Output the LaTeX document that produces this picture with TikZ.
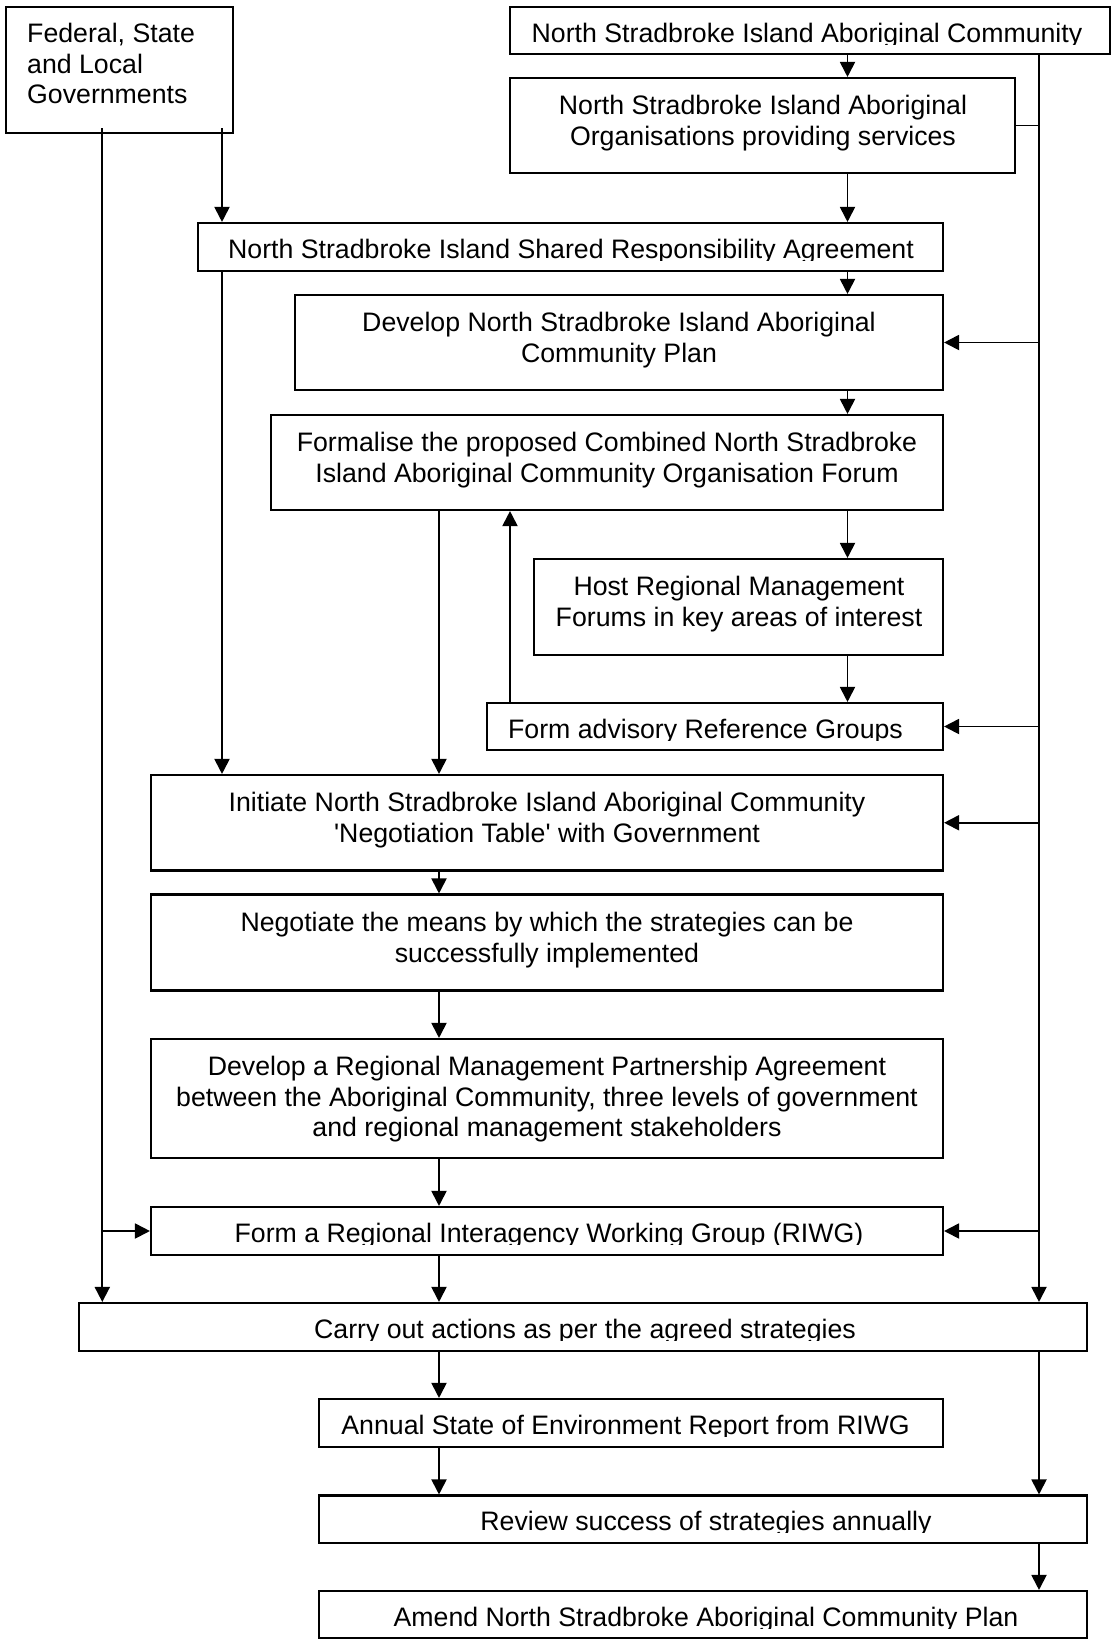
\documentclass[tikz,border=0pt]{standalone}
\usepackage{fontspec}
\setmainfont{Liberation Sans}
\usetikzlibrary{arrows.meta}

% straight apostrophe (bypasses the TeX quote ligatures)
\newcommand\sq{{\XeTeXglyph\XeTeXglyphindex"quotesingle"\relax}}
% fixed height of the first text line
\newcommand\fl{\rule{0pt}{21.4pt}}

% box given by its corners: name, x1, y1, x2, y2
\newcommand\flowbox[5]{%
  \node[box, minimum width=#4pt-#2pt, minimum height=#5pt-#3pt]
    (#1) at ({(#2+#4)/2},{(#3+#5)/2}) {};}

% single-line caption inside a shallow box: name, centre x, box top, text
\newcommand\oneline[4]{%
  \begin{scope}
    \clip (0,#3) rectangle (1115,#3+37);
    \node[lbl] (#1) at (#2,#3+13.6) {\fl #4};
  \end{scope}}

\begin{document}
\begin{tikzpicture}[x=1pt,y=-1pt,
  box/.style={draw, line width=2.1pt, inner sep=0pt},
  lbl/.style={inner sep=0pt, align=center, anchor=north,
    font=\fontsize{26.7pt}{30.6pt}\selectfont},
  flow/.style={line width=1.9pt, -{Triangle[length=15pt,width=15pt]}},
  link/.style={line width=1.9pt}]

\fill[white] (0,0) rectangle (1115,1639);
\useasboundingbox (0,0) rectangle (1115,1639);

% boxes
\flowbox{fed}{6}{7}{233}{133}
\flowbox{comm}{510}{7}{1110}{54}
\flowbox{org}{510}{78}{1015}{173}
\flowbox{sra}{198}{223}{943}{271}
\flowbox{plan}{295}{295}{943}{390}
\flowbox{forum}{271}{415}{943}{510}
\flowbox{host}{534}{559}{943}{655}
\flowbox{refg}{487}{703}{943}{750}
\flowbox{init}{151}{775}{943}{870.5}
\flowbox{nego}{151}{894.5}{943}{990.5}
\flowbox{rmpa}{151}{1039}{943}{1158}
\flowbox{riwg}{151}{1207}{943}{1255}
\flowbox{carry}{79}{1303}{1087}{1351}
\flowbox{annual}{319}{1399}{943}{1447}
\flowbox{review}{319}{1495.5}{1087}{1543}
\flowbox{amend}{319}{1591}{1087}{1638}

% captions
\node[lbl, align=left, anchor=north west] (fed-t) at (27,20.8)
  {\fl Federal, State\\and Local\\Governments};
\oneline{comm-t}{807}{7}{North Stradbroke Island Aboriginal Community}
\node[lbl] (org-t) at (763,92.8)
  {\fl North Stradbroke Island Aboriginal\\Organisations providing services};
\oneline{sra-t}{571}{223}{North Stradbroke Island Shared Responsibility Agreement}
\node[lbl] (plan-t) at (619,309.8)
  {\fl Develop North Stradbroke Island Aboriginal\\Community Plan};
\node[lbl] (forum-t) at (607,429.8)
  {\fl Formalise the proposed Combined North Stradbroke\\Island Aboriginal Community Organisation Forum};
\node[lbl] (host-t) at (739,573.8)
  {\fl Host Regional Management\\Forums in key areas of interest};
\oneline{refg-t}{705.5}{703}{Form advisory Reference Groups}
\node[lbl] (init-t) at (547,789.8)
  {\fl Initiate North Stradbroke Island Aboriginal Community\\\sq Negotiation Table\sq{} with Government};
\node[lbl] (nego-t) at (547,910)
  {\fl Negotiate the means by which the strategies can be\\successfully implemented};
\node[lbl] (rmpa-t) at (547,1053.8)
  {\fl Develop a Regional Management Partnership Agreement\\between the Aboriginal Community, three levels of government\\and regional management stakeholders};
\oneline{riwg-t}{549}{1207}{Form a Regional Interagency Working Group (RIWG)}
\oneline{carry-t}{585}{1303}{Carry out actions as per the agreed strategies}
\oneline{annual-t}{625.6}{1399}{Annual State of Environment Report from RIWG}
\oneline{review-t}{706}{1495.5}{Review success of strategies annually}
\oneline{amend-t}{706}{1591}{Amend North Stradbroke Aboriginal Community Plan}

% connector columns
\coordinate (lx) at (102.3,0);
\coordinate (gx) at (222,0);
\coordinate (mx) at (439,0);
\coordinate (ux) at (510,0);
\coordinate (cx) at (847.5,0);
\coordinate (rx) at (1039,0);
\coordinate (fedout) at ([yshift=6pt]fed.south);

% main column on the right
\draw[flow] (comm.south -| cx) -- (org.north -| cx);
\draw[flow] (org.south -| cx) -- (sra.north -| cx);
\draw[flow] (sra.south -| cx) -- (plan.north -| cx);
\draw[flow] (plan.south -| cx) -- (forum.north -| cx);
\draw[flow] (forum.south -| cx) -- (host.north -| cx);
\draw[flow] (host.south -| cx) -- (refg.north -| cx);
\draw[flow] (refg.north -| ux) -- (forum.south -| ux);

% central column
\draw[flow] (forum.south -| mx) -- (init.north -| mx);
\foreach \a/\b in {init/nego, nego/rmpa, rmpa/riwg, riwg/carry, carry/annual, annual/review}
  \draw[flow] (\a.south -| mx) -- (\b.north -| mx);

% government lines
\draw[flow] (fedout -| gx) -- (sra.north -| gx);
\draw[flow] (sra.south -| gx) -- (init.north -| gx);
\draw[flow] (fedout -| lx) -- (carry.north -| lx);
\draw[flow] (riwg.west -| lx) -- (riwg.west);

% community line
\draw[flow] (comm.south -| rx) -- (carry.north -| rx);
\draw[link] (org.east -| rx) -- (org.east);
\foreach \n in {plan, refg, init, riwg}
  \draw[flow] (\n.east -| rx) -- (\n.east);
\draw[flow] (carry.south -| rx) -- (review.north -| rx);
\draw[flow] (review.south -| rx) -- (amend.north -| rx);

\end{tikzpicture}
\end{document}
